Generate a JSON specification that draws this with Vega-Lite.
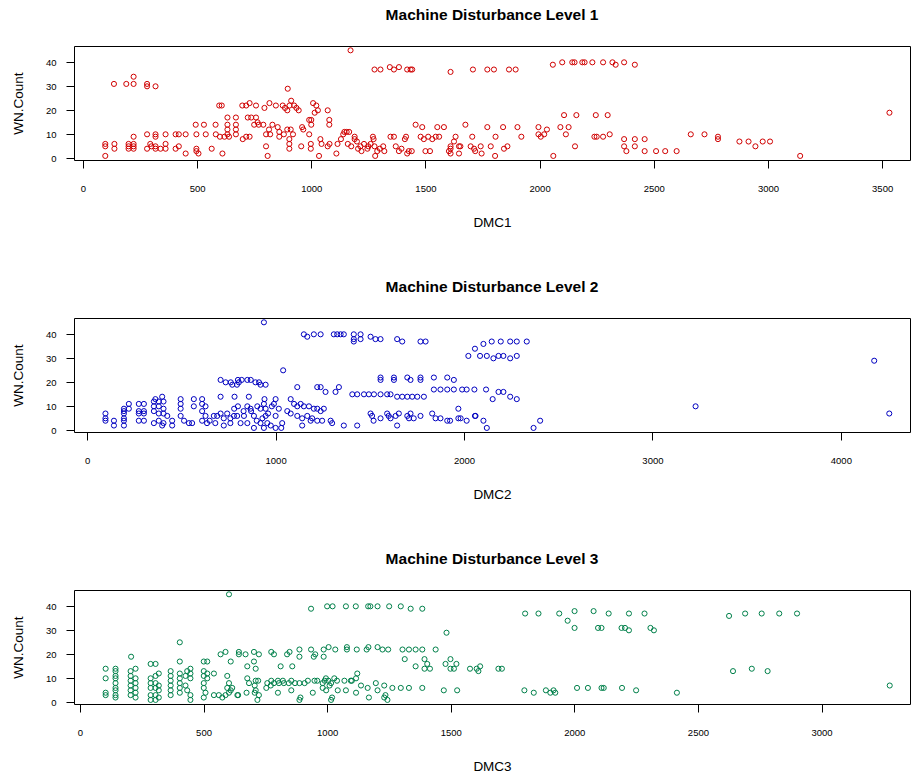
{
"$schema": "https://vega.github.io/schema/vega-lite/v6.json",
"padding": {"left": 10, "top": 7, "right": 0, "bottom": 0},
"background": "white",
"datasets": {
"p1": [
{"DMC":98,"WN":1},{"DMC":98,"WN":5},{"DMC":98,"WN":6},{"DMC":136,"WN":31},{"DMC":138,"WN":4},{"DMC":138,"WN":6},{"DMC":190,"WN":31},{"DMC":200,"WN":6},{"DMC":200,"WN":5},{"DMC":200,"WN":4},{"DMC":222,"WN":31},{"DMC":222,"WN":34},{"DMC":222,"WN":9},{"DMC":222,"WN":6},{"DMC":222,"WN":5},{"DMC":222,"WN":4},{"DMC":281,"WN":30},{"DMC":281,"WN":31},{"DMC":318,"WN":30},{"DMC":281,"WN":10},{"DMC":281,"WN":4},{"DMC":295,"WN":6},{"DMC":300,"WN":5},{"DMC":318,"WN":10},{"DMC":318,"WN":9},{"DMC":318,"WN":5},{"DMC":318,"WN":4},{"DMC":340,"WN":4},{"DMC":362,"WN":10},{"DMC":362,"WN":6},{"DMC":362,"WN":4},{"DMC":406,"WN":10},{"DMC":420,"WN":10},{"DMC":450,"WN":10},{"DMC":406,"WN":4},{"DMC":420,"WN":5},{"DMC":450,"WN":2},{"DMC":494,"WN":14},{"DMC":497,"WN":10},{"DMC":497,"WN":4},{"DMC":497,"WN":3},{"DMC":506,"WN":2},{"DMC":530,"WN":14},{"DMC":538,"WN":10},{"DMC":564,"WN":4},{"DMC":581,"WN":14},{"DMC":582,"WN":10},{"DMC":597,"WN":22},{"DMC":608,"WN":22},{"DMC":611,"WN":2},{"DMC":600,"WN":9},{"DMC":620,"WN":9},{"DMC":633,"WN":17},{"DMC":633,"WN":14},{"DMC":633,"WN":12},{"DMC":633,"WN":10},{"DMC":640,"WN":9},{"DMC":670,"WN":17},{"DMC":670,"WN":14},{"DMC":670,"WN":12},{"DMC":670,"WN":10},{"DMC":698,"WN":22},{"DMC":715,"WN":22},{"DMC":730,"WN":23},{"DMC":700,"WN":8},{"DMC":715,"WN":9},{"DMC":730,"WN":9},{"DMC":722,"WN":17},{"DMC":737,"WN":17},{"DMC":758,"WN":17},{"DMC":765,"WN":15},{"DMC":750,"WN":14},{"DMC":770,"WN":14},{"DMC":790,"WN":14},{"DMC":758,"WN":22},{"DMC":795,"WN":21},{"DMC":817,"WN":23},{"DMC":802,"WN":10},{"DMC":802,"WN":5},{"DMC":809,"WN":1},{"DMC":815,"WN":12},{"DMC":820,"WN":10},{"DMC":830,"WN":14},{"DMC":853,"WN":13},{"DMC":860,"WN":11},{"DMC":860,"WN":9},{"DMC":845,"WN":22},{"DMC":875,"WN":22},{"DMC":885,"WN":21},{"DMC":895,"WN":20},{"DMC":905,"WN":22},{"DMC":912,"WN":24},{"DMC":925,"WN":22},{"DMC":935,"WN":21},{"DMC":945,"WN":20},{"DMC":897,"WN":29},{"DMC":904,"WN":8},{"DMC":904,"WN":6},{"DMC":904,"WN":4},{"DMC":880,"WN":10},{"DMC":895,"WN":12},{"DMC":910,"WN":12},{"DMC":920,"WN":10},{"DMC":956,"WN":5},{"DMC":960,"WN":13},{"DMC":965,"WN":12},{"DMC":991,"WN":16},{"DMC":1000,"WN":16},{"DMC":1000,"WN":14},{"DMC":991,"WN":10},{"DMC":998,"WN":6},{"DMC":998,"WN":4},{"DMC":1008,"WN":23},{"DMC":1022,"WN":22},{"DMC":1029,"WN":20},{"DMC":1015,"WN":19},{"DMC":1034,"WN":1},{"DMC":1040,"WN":8},{"DMC":1045,"WN":6},{"DMC":1072,"WN":20},{"DMC":1079,"WN":16},{"DMC":1079,"WN":14},{"DMC":1072,"WN":5},{"DMC":1080,"WN":6},{"DMC":1110,"WN":2},{"DMC":1115,"WN":6},{"DMC":1130,"WN":8},{"DMC":1140,"WN":10},{"DMC":1145,"WN":11},{"DMC":1155,"WN":11},{"DMC":1166,"WN":11},{"DMC":1172,"WN":45},{"DMC":1160,"WN":6},{"DMC":1175,"WN":5},{"DMC":1190,"WN":8},{"DMC":1190,"WN":9},{"DMC":1200,"WN":7},{"DMC":1205,"WN":4},{"DMC":1215,"WN":5},{"DMC":1220,"WN":3},{"DMC":1231,"WN":6},{"DMC":1246,"WN":4},{"DMC":1250,"WN":5},{"DMC":1260,"WN":6},{"DMC":1270,"WN":9},{"DMC":1273,"WN":8},{"DMC":1277,"WN":5},{"DMC":1277,"WN":37},{"DMC":1280,"WN":1},{"DMC":1289,"WN":3},{"DMC":1303,"WN":37},{"DMC":1300,"WN":4},{"DMC":1315,"WN":5},{"DMC":1320,"WN":3},{"DMC":1344,"WN":38},{"DMC":1362,"WN":37},{"DMC":1384,"WN":38},{"DMC":1347,"WN":9},{"DMC":1362,"WN":9},{"DMC":1370,"WN":5},{"DMC":1384,"WN":3},{"DMC":1395,"WN":4},{"DMC":1410,"WN":8},{"DMC":1415,"WN":9},{"DMC":1420,"WN":37},{"DMC":1435,"WN":37},{"DMC":1442,"WN":37},{"DMC":1427,"WN":3},{"DMC":1420,"WN":2},{"DMC":1440,"WN":3},{"DMC":1457,"WN":14},{"DMC":1486,"WN":13},{"DMC":1479,"WN":9},{"DMC":1493,"WN":8},{"DMC":1500,"WN":3},{"DMC":1520,"WN":3},{"DMC":1512,"WN":9},{"DMC":1530,"WN":8},{"DMC":1545,"WN":9},{"DMC":1552,"WN":13},{"DMC":1581,"WN":13},{"DMC":1560,"WN":9},{"DMC":1603,"WN":3},{"DMC":1610,"WN":4},{"DMC":1610,"WN":36},{"DMC":1610,"WN":5},{"DMC":1610,"WN":2},{"DMC":1625,"WN":7},{"DMC":1632,"WN":9},{"DMC":1647,"WN":5},{"DMC":1647,"WN":2},{"DMC":1653,"WN":5},{"DMC":1675,"WN":14},{"DMC":1698,"WN":5},{"DMC":1705,"WN":9},{"DMC":1713,"WN":4},{"DMC":1718,"WN":3},{"DMC":1708,"WN":37},{"DMC":1742,"WN":5},{"DMC":1746,"WN":2},{"DMC":1771,"WN":37},{"DMC":1771,"WN":13},{"DMC":1786,"WN":5},{"DMC":1800,"WN":37},{"DMC":1805,"WN":1},{"DMC":1807,"WN":9},{"DMC":1844,"WN":4},{"DMC":1859,"WN":5},{"DMC":1840,"WN":13},{"DMC":1866,"WN":37},{"DMC":1895,"WN":37},{"DMC":1903,"WN":13},{"DMC":1920,"WN":9},{"DMC":1995,"WN":13},{"DMC":1995,"WN":10},{"DMC":2005,"WN":9},{"DMC":2020,"WN":10},{"DMC":2032,"WN":12},{"DMC":2060,"WN":1},{"DMC":2091,"WN":13},{"DMC":2127,"WN":13},{"DMC":2107,"WN":18},{"DMC":2115,"WN":10},{"DMC":2161,"WN":18},{"DMC":2155,"WN":5},{"DMC":2058,"WN":39},{"DMC":2099,"WN":40},{"DMC":2143,"WN":40},{"DMC":2153,"WN":40},{"DMC":2187,"WN":40},{"DMC":2197,"WN":40},{"DMC":2231,"WN":40},{"DMC":2278,"WN":40},{"DMC":2319,"WN":40},{"DMC":2333,"WN":39},{"DMC":2370,"WN":40},{"DMC":2417,"WN":39},{"DMC":2246,"WN":18},{"DMC":2298,"WN":18},{"DMC":2240,"WN":9},{"DMC":2250,"WN":9},{"DMC":2278,"WN":9},{"DMC":2307,"WN":10},{"DMC":2370,"WN":8},{"DMC":2370,"WN":5},{"DMC":2380,"WN":3},{"DMC":2417,"WN":8},{"DMC":2417,"WN":5},{"DMC":2460,"WN":8},{"DMC":2460,"WN":3},{"DMC":2510,"WN":3},{"DMC":2550,"WN":3},{"DMC":2600,"WN":3},{"DMC":2662,"WN":10},{"DMC":2722,"WN":10},{"DMC":2781,"WN":9},{"DMC":2781,"WN":8},{"DMC":2875,"WN":7},{"DMC":2915,"WN":7},{"DMC":2945,"WN":5},{"DMC":2977,"WN":7},{"DMC":3009,"WN":7},{"DMC":3141,"WN":1},{"DMC":3532,"WN":19}
],
"p2": [
{"DMC":938,"WN":45},{"DMC":1040,"WN":25},{"DMC":708,"WN":21},{"DMC":735,"WN":20},{"DMC":762,"WN":20},{"DMC":795,"WN":19},{"DMC":800,"WN":21},{"DMC":820,"WN":21},{"DMC":850,"WN":21},{"DMC":868,"WN":21},{"DMC":893,"WN":20},{"DMC":912,"WN":20},{"DMC":920,"WN":19},{"DMC":947,"WN":19},{"DMC":770,"WN":19},{"DMC":805,"WN":20},{"DMC":708,"WN":14},{"DMC":782,"WN":14},{"DMC":858,"WN":14},{"DMC":941,"WN":13},{"DMC":1000,"WN":13},
{"DMC":97,"WN":7},{"DMC":97,"WN":5},{"DMC":97,"WN":4},{"DMC":142,"WN":4},{"DMC":142,"WN":2},{"DMC":195,"WN":9},{"DMC":195,"WN":8},{"DMC":195,"WN":7},{"DMC":195,"WN":5},{"DMC":195,"WN":4},{"DMC":195,"WN":2},{"DMC":221,"WN":11},{"DMC":221,"WN":9},{"DMC":274,"WN":11},{"DMC":274,"WN":8},{"DMC":274,"WN":7},{"DMC":274,"WN":4},{"DMC":301,"WN":11},{"DMC":301,"WN":8},{"DMC":301,"WN":7},{"DMC":301,"WN":4},{"DMC":354,"WN":12},{"DMC":362,"WN":13},{"DMC":380,"WN":12},{"DMC":398,"WN":14},{"DMC":405,"WN":12},{"DMC":354,"WN":10},{"DMC":380,"WN":10},{"DMC":405,"WN":9},{"DMC":354,"WN":8},{"DMC":380,"WN":7},{"DMC":405,"WN":7},{"DMC":354,"WN":3},{"DMC":380,"WN":4},{"DMC":405,"WN":3},{"DMC":398,"WN":2},{"DMC":451,"WN":2},{"DMC":451,"WN":4},{"DMC":425,"WN":6},{"DMC":496,"WN":13},{"DMC":496,"WN":11},{"DMC":496,"WN":9},{"DMC":496,"WN":6},{"DMC":514,"WN":4},{"DMC":540,"WN":3},{"DMC":557,"WN":3},{"DMC":566,"WN":13},{"DMC":566,"WN":10},{"DMC":610,"WN":13},{"DMC":610,"WN":11},{"DMC":628,"WN":10},{"DMC":610,"WN":8},{"DMC":628,"WN":6},{"DMC":610,"WN":4},{"DMC":636,"WN":3},{"DMC":650,"WN":4},{"DMC":672,"WN":6},{"DMC":680,"WN":3},{"DMC":690,"WN":6},{"DMC":708,"WN":7},{"DMC":725,"WN":5},{"DMC":725,"WN":2},{"DMC":743,"WN":7},{"DMC":760,"WN":5},{"DMC":760,"WN":3},{"DMC":779,"WN":6},{"DMC":780,"WN":9},{"DMC":796,"WN":6},{"DMC":800,"WN":10},{"DMC":814,"WN":3},{"DMC":830,"WN":8},{"DMC":832,"WN":6},{"DMC":850,"WN":10},{"DMC":850,"WN":3},{"DMC":867,"WN":9},{"DMC":870,"WN":8},{"DMC":885,"WN":6},{"DMC":885,"WN":1},{"DMC":900,"WN":4},{"DMC":903,"WN":10},{"DMC":920,"WN":9},{"DMC":920,"WN":3},{"DMC":930,"WN":5},{"DMC":938,"WN":11},{"DMC":938,"WN":1},{"DMC":947,"WN":9},{"DMC":947,"WN":6},{"DMC":956,"WN":3},{"DMC":960,"WN":7},{"DMC":974,"WN":2},{"DMC":980,"WN":10},{"DMC":991,"WN":11},{"DMC":1000,"WN":6},{"DMC":1000,"WN":1},{"DMC":1017,"WN":9},{"DMC":1030,"WN":1},{"DMC":1035,"WN":3},
{"DMC":1080,"WN":13},{"DMC":1098,"WN":11},{"DMC":1115,"WN":10},{"DMC":1133,"WN":11},{"DMC":1150,"WN":10},{"DMC":1177,"WN":10},{"DMC":1203,"WN":9},{"DMC":1221,"WN":9},{"DMC":1239,"WN":8},{"DMC":1256,"WN":9},{"DMC":1062,"WN":8},{"DMC":1080,"WN":7},{"DMC":1115,"WN":6},{"DMC":1141,"WN":5},{"DMC":1168,"WN":6},{"DMC":1194,"WN":5},{"DMC":1221,"WN":4},{"DMC":1247,"WN":4},{"DMC":1292,"WN":4},{"DMC":1300,"WN":3},{"DMC":1362,"WN":2},{"DMC":1141,"WN":2},{"DMC":1186,"WN":4},{"DMC":1115,"WN":18},{"DMC":1221,"WN":18},{"DMC":1239,"WN":18},{"DMC":1265,"WN":16},{"DMC":1318,"WN":16},{"DMC":1336,"WN":18},
{"DMC":1407,"WN":15},{"DMC":1433,"WN":15},{"DMC":1469,"WN":15},{"DMC":1495,"WN":15},{"DMC":1522,"WN":15},{"DMC":1557,"WN":15},{"DMC":1592,"WN":15},{"DMC":1610,"WN":15},{"DMC":1645,"WN":14},{"DMC":1672,"WN":14},{"DMC":1699,"WN":14},{"DMC":1725,"WN":14},{"DMC":1752,"WN":14},{"DMC":1787,"WN":14},
{"DMC":1840,"WN":17},{"DMC":1875,"WN":17},{"DMC":1911,"WN":17},{"DMC":1946,"WN":17},{"DMC":1990,"WN":17},{"DMC":2014,"WN":17},{"DMC":2055,"WN":17},{"DMC":2117,"WN":17},{"DMC":2152,"WN":13},{"DMC":2183,"WN":16},{"DMC":2209,"WN":16},{"DMC":2245,"WN":14},{"DMC":2280,"WN":13},
{"DMC":1557,"WN":22},{"DMC":1557,"WN":21},{"DMC":1628,"WN":22},{"DMC":1628,"WN":21},{"DMC":1699,"WN":22},{"DMC":1716,"WN":21},{"DMC":1769,"WN":22},{"DMC":1769,"WN":21},{"DMC":1840,"WN":22},{"DMC":1911,"WN":22},{"DMC":1946,"WN":21},
{"DMC":1150,"WN":40},{"DMC":1168,"WN":39},{"DMC":1203,"WN":40},{"DMC":1239,"WN":40},{"DMC":1309,"WN":40},{"DMC":1327,"WN":40},{"DMC":1345,"WN":40},{"DMC":1362,"WN":40},{"DMC":1415,"WN":40},{"DMC":1451,"WN":40},{"DMC":1415,"WN":38},{"DMC":1415,"WN":37},{"DMC":1451,"WN":38},{"DMC":1504,"WN":39},{"DMC":1530,"WN":38},{"DMC":1557,"WN":38},{"DMC":1645,"WN":38},{"DMC":1672,"WN":37},{"DMC":1769,"WN":37},{"DMC":1796,"WN":37},
{"DMC":2023,"WN":31},{"DMC":2058,"WN":34},{"DMC":2103,"WN":36},{"DMC":2147,"WN":37},{"DMC":2195,"WN":37},{"DMC":2245,"WN":37},{"DMC":2280,"WN":37},{"DMC":2333,"WN":37},{"DMC":2085,"WN":31},{"DMC":2121,"WN":31},{"DMC":2156,"WN":30},{"DMC":2183,"WN":31},{"DMC":2209,"WN":31},{"DMC":2245,"WN":30},{"DMC":2280,"WN":31},
{"DMC":1433,"WN":2},{"DMC":1504,"WN":7},{"DMC":1512,"WN":6},{"DMC":1520,"WN":4},{"DMC":1557,"WN":5},{"DMC":1592,"WN":7},{"DMC":1600,"WN":6},{"DMC":1610,"WN":5},{"DMC":1637,"WN":6},{"DMC":1654,"WN":7},{"DMC":1645,"WN":2},{"DMC":1699,"WN":6},{"DMC":1708,"WN":5},{"DMC":1716,"WN":7},{"DMC":1733,"WN":5},{"DMC":1769,"WN":6},{"DMC":1831,"WN":7},{"DMC":1849,"WN":5},{"DMC":1875,"WN":5},{"DMC":1911,"WN":4},{"DMC":1926,"WN":4},{"DMC":1970,"WN":5},{"DMC":1970,"WN":9},{"DMC":2014,"WN":4},{"DMC":2058,"WN":6},{"DMC":2103,"WN":4},{"DMC":2121,"WN":1},{"DMC":2369,"WN":1},{"DMC":2404,"WN":4},{"DMC":1982,"WN":5},{"DMC":2061,"WN":6},
{"DMC":3229,"WN":10},{"DMC":4177,"WN":29},{"DMC":4257,"WN":7}
],
"p3": [
{"DMC":603,"WN":45},{"DMC":404,"WN":25},{"DMC":207,"WN":19},{"DMC":104,"WN":14},{"DMC":104,"WN":10},{"DMC":104,"WN":3},{"DMC":104,"WN":4},{"DMC":144,"WN":14},{"DMC":144,"WN":13},{"DMC":144,"WN":11},{"DMC":144,"WN":10},{"DMC":144,"WN":8},{"DMC":144,"WN":6},{"DMC":144,"WN":5},{"DMC":144,"WN":3},{"DMC":144,"WN":2},
{"DMC":205,"WN":13},{"DMC":225,"WN":14},{"DMC":205,"WN":11},{"DMC":225,"WN":10},{"DMC":205,"WN":9},{"DMC":225,"WN":8},{"DMC":205,"WN":7},{"DMC":225,"WN":6},{"DMC":205,"WN":5},{"DMC":225,"WN":4},{"DMC":205,"WN":3},{"DMC":225,"WN":2},
{"DMC":286,"WN":16},{"DMC":306,"WN":16},{"DMC":286,"WN":10},{"DMC":306,"WN":11},{"DMC":319,"WN":12},{"DMC":286,"WN":8},{"DMC":306,"WN":8},{"DMC":319,"WN":7},{"DMC":286,"WN":6},{"DMC":306,"WN":6},{"DMC":319,"WN":5},{"DMC":286,"WN":3},{"DMC":306,"WN":3},{"DMC":319,"WN":2},{"DMC":286,"WN":1},{"DMC":306,"WN":1},
{"DMC":367,"WN":13},{"DMC":367,"WN":11},{"DMC":367,"WN":9},{"DMC":367,"WN":7},{"DMC":367,"WN":5},{"DMC":367,"WN":3},
{"DMC":404,"WN":17},{"DMC":404,"WN":12},{"DMC":404,"WN":10},{"DMC":404,"WN":8},{"DMC":404,"WN":6},{"DMC":404,"WN":4},{"DMC":427,"WN":11},{"DMC":434,"WN":13},{"DMC":447,"WN":14},{"DMC":447,"WN":12},{"DMC":447,"WN":10},{"DMC":427,"WN":7},{"DMC":434,"WN":5},{"DMC":447,"WN":3},{"DMC":447,"WN":1},
{"DMC":501,"WN":17},{"DMC":515,"WN":17},{"DMC":501,"WN":13},{"DMC":515,"WN":12},{"DMC":501,"WN":11},{"DMC":515,"WN":10},{"DMC":501,"WN":8},{"DMC":501,"WN":6},{"DMC":508,"WN":4},{"DMC":501,"WN":2},
{"DMC":542,"WN":12},{"DMC":542,"WN":3},{"DMC":562,"WN":3},{"DMC":576,"WN":2},{"DMC":589,"WN":3},{"DMC":603,"WN":4},{"DMC":610,"WN":5},
{"DMC":569,"WN":20},{"DMC":589,"WN":21},{"DMC":610,"WN":17},{"DMC":596,"WN":11},{"DMC":603,"WN":8},{"DMC":596,"WN":6},{"DMC":616,"WN":6},{"DMC":637,"WN":3},{"DMC":643,"WN":20},{"DMC":643,"WN":21},{"DMC":670,"WN":20},{"DMC":677,"WN":15},{"DMC":677,"WN":10},{"DMC":684,"WN":8},{"DMC":704,"WN":17},{"DMC":704,"WN":21},{"DMC":711,"WN":14},{"DMC":724,"WN":20},{"DMC":711,"WN":9},{"DMC":711,"WN":5},{"DMC":724,"WN":3},{"DMC":718,"WN":1},{"DMC":758,"WN":8},{"DMC":772,"WN":7},{"DMC":785,"WN":20},{"DMC":785,"WN":8},{"DMC":805,"WN":8},{"DMC":812,"WN":15},{"DMC":825,"WN":8},{"DMC":838,"WN":20},{"DMC":845,"WN":8},
{"DMC":774,"WN":21},{"DMC":848,"WN":21},{"DMC":888,"WN":22},{"DMC":888,"WN":19},{"DMC":935,"WN":22},{"DMC":952,"WN":20},{"DMC":946,"WN":19},{"DMC":986,"WN":19},{"DMC":986,"WN":22},{"DMC":1006,"WN":23},{"DMC":1033,"WN":22},{"DMC":1080,"WN":23},{"DMC":1080,"WN":22},{"DMC":1120,"WN":22},{"DMC":1160,"WN":22},{"DMC":1167,"WN":23},{"DMC":1204,"WN":23},{"DMC":1224,"WN":22},{"DMC":1247,"WN":22},{"DMC":1305,"WN":22},{"DMC":1331,"WN":22},{"DMC":1358,"WN":22},{"DMC":1385,"WN":22},{"DMC":1439,"WN":22},
{"DMC":935,"WN":39},{"DMC":1000,"WN":40},{"DMC":1022,"WN":40},{"DMC":1076,"WN":40},{"DMC":1116,"WN":40},{"DMC":1166,"WN":40},{"DMC":1175,"WN":40},{"DMC":1204,"WN":40},{"DMC":1251,"WN":40},{"DMC":1298,"WN":40},{"DMC":1338,"WN":39},{"DMC":1385,"WN":39},
{"DMC":1483,"WN":29},{"DMC":1314,"WN":18},{"DMC":1358,"WN":15},{"DMC":1394,"WN":18},{"DMC":1405,"WN":16},{"DMC":1394,"WN":14},{"DMC":1416,"WN":14},{"DMC":1479,"WN":16},{"DMC":1499,"WN":18},{"DMC":1499,"WN":14},{"DMC":1513,"WN":14},{"DMC":1523,"WN":16},{"DMC":1578,"WN":14},{"DMC":1605,"WN":14},{"DMC":1619,"WN":15},{"DMC":1612,"WN":13},{"DMC":1693,"WN":14},{"DMC":1707,"WN":14},
{"DMC":640,"WN":3},{"DMC":674,"WN":4},{"DMC":707,"WN":4},{"DMC":707,"WN":7},{"DMC":721,"WN":9},{"DMC":754,"WN":6},{"DMC":774,"WN":9},{"DMC":801,"WN":9},{"DMC":801,"WN":4},{"DMC":821,"WN":9},{"DMC":855,"WN":9},{"DMC":855,"WN":5},{"DMC":859,"WN":15},{"DMC":870,"WN":8},{"DMC":888,"WN":8},{"DMC":888,"WN":1},{"DMC":892,"WN":2},{"DMC":909,"WN":8},{"DMC":922,"WN":9},{"DMC":942,"WN":4},{"DMC":949,"WN":9},{"DMC":960,"WN":9},{"DMC":982,"WN":8},{"DMC":982,"WN":6},{"DMC":990,"WN":9},{"DMC":995,"WN":10},{"DMC":996,"WN":5},{"DMC":1005,"WN":9},{"DMC":1010,"WN":7},{"DMC":1016,"WN":8},{"DMC":1016,"WN":1},{"DMC":1020,"WN":2},{"DMC":1029,"WN":10},{"DMC":1043,"WN":5},{"DMC":1040,"WN":9},{"DMC":1070,"WN":9},{"DMC":1076,"WN":5},{"DMC":1096,"WN":9},{"DMC":1100,"WN":9},{"DMC":1117,"WN":10},{"DMC":1117,"WN":4},{"DMC":1122,"WN":12},{"DMC":1137,"WN":7},{"DMC":1164,"WN":6},{"DMC":1169,"WN":2},{"DMC":1197,"WN":8},{"DMC":1204,"WN":5},{"DMC":1231,"WN":7},{"DMC":1231,"WN":2},{"DMC":1236,"WN":3},{"DMC":1244,"WN":1},{"DMC":1264,"WN":6},{"DMC":1298,"WN":6},{"DMC":1331,"WN":6},{"DMC":1385,"WN":6},{"DMC":1472,"WN":5},{"DMC":1526,"WN":5},
{"DMC":1801,"WN":37},{"DMC":1855,"WN":37},{"DMC":1939,"WN":37},{"DMC":2001,"WN":38},{"DMC":2078,"WN":38},{"DMC":2139,"WN":37},{"DMC":2221,"WN":37},{"DMC":2284,"WN":37},{"DMC":1973,"WN":34},{"DMC":2001,"WN":31},{"DMC":2096,"WN":31},{"DMC":2110,"WN":31},{"DMC":2191,"WN":31},{"DMC":2205,"WN":31},{"DMC":2221,"WN":30},{"DMC":2308,"WN":31},{"DMC":2322,"WN":30},
{"DMC":2626,"WN":36},{"DMC":2691,"WN":37},{"DMC":2758,"WN":37},{"DMC":2829,"WN":37},{"DMC":2901,"WN":37},{"DMC":2642,"WN":13},{"DMC":2718,"WN":14},{"DMC":2782,"WN":13},{"DMC":3276,"WN":7},
{"DMC":1798,"WN":5},{"DMC":1836,"WN":4},{"DMC":1885,"WN":5},{"DMC":1903,"WN":4},{"DMC":1916,"WN":5},{"DMC":1923,"WN":4},{"DMC":2011,"WN":6},{"DMC":2055,"WN":6},{"DMC":2110,"WN":6},{"DMC":2119,"WN":6},{"DMC":2193,"WN":6},{"DMC":2250,"WN":5},{"DMC":2415,"WN":4}
]
},
"vconcat": [
{
"title": {"text": "Machine Disturbance Level 1"},
"width": 836, "height": 114,
"data": {"name": "p1"},
"mark": {"type": "point", "shape": "circle", "filled": false, "size": 26, "strokeWidth": 1, "color": "#D00000", "opacity": 1},
"encoding": {
"x": {"field": "DMC", "type": "quantitative", "scale": {"domain": [-39, 3622], "nice": false, "zero": false}, "axis": {"title": "DMC1", "format": "d", "values": [0,500,1000,1500,2000,2500,3000,3500]}},
"y": {"field": "WN", "type": "quantitative", "scale": {"domain": [-0.7, 46.8], "nice": false, "zero": false}, "axis": {"title": "WN.Count", "format": "d", "values": [0,10,20,30,40], "encode": {"labels": {"update": {"angle": {"value": -90}, "align": {"value": "center"}, "baseline": {"value": "bottom"}}}}}}
}
},
{
"title": {"text": "Machine Disturbance Level 2"},
"width": 836, "height": 114,
"data": {"name": "p2"},
"mark": {"type": "point", "shape": "circle", "filled": false, "size": 26, "strokeWidth": 1, "color": "#0000C0", "opacity": 1},
"encoding": {
"x": {"field": "DMC", "type": "quantitative", "scale": {"domain": [-70, 4367], "nice": false, "zero": false}, "axis": {"title": "DMC2", "format": "d", "values": [0,1000,2000,3000,4000]}},
"y": {"field": "WN", "type": "quantitative", "scale": {"domain": [-0.7, 46.8], "nice": false, "zero": false}, "axis": {"title": "WN.Count", "format": "d", "values": [0,10,20,30,40], "encode": {"labels": {"update": {"angle": {"value": -90}, "align": {"value": "center"}, "baseline": {"value": "bottom"}}}}}}
}
},
{
"title": {"text": "Machine Disturbance Level 3"},
"width": 836, "height": 114,
"data": {"name": "p3"},
"mark": {"type": "point", "shape": "circle", "filled": false, "size": 26, "strokeWidth": 1, "color": "#00804A", "opacity": 1},
"encoding": {
"x": {"field": "DMC", "type": "quantitative", "scale": {"domain": [-24, 3358], "nice": false, "zero": false}, "axis": {"title": "DMC3", "format": "d", "values": [0,500,1000,1500,2000,2500,3000]}},
"y": {"field": "WN", "type": "quantitative", "scale": {"domain": [-0.7, 46.8], "nice": false, "zero": false}, "axis": {"title": "WN.Count", "format": "d", "values": [0,10,20,30,40], "encode": {"labels": {"update": {"angle": {"value": -90}, "align": {"value": "center"}, "baseline": {"value": "bottom"}}}}}}
}
}
],
"spacing": 158,
"bounds": "flush",
"config": {
"font": "Liberation Sans",
"view": {"stroke": "#000000", "strokeWidth": 1},
"axis": {"grid": false, "domain": false, "ticks": true, "tickColor": "#000000", "tickSize": 8, "labelColor": "#000000", "labelFontSize": 9.5, "labelFont": "Liberation Sans", "titleColor": "#000000", "titleFontSize": 13.5, "titleFontWeight": "normal", "titleFont": "Liberation Sans", "labelFlush": false, "labelOverlap": false},
"axisX": {"labelPadding": 15, "titlePadding": 23},
"axisY": {"labelPadding": 10, "titlePadding": 20},
"title": {"fontSize": 15.5, "fontWeight": "bold", "color": "#000000", "font": "Liberation Sans", "anchor": "middle", "baseline": "alphabetic", "offset": 22}
}
}
